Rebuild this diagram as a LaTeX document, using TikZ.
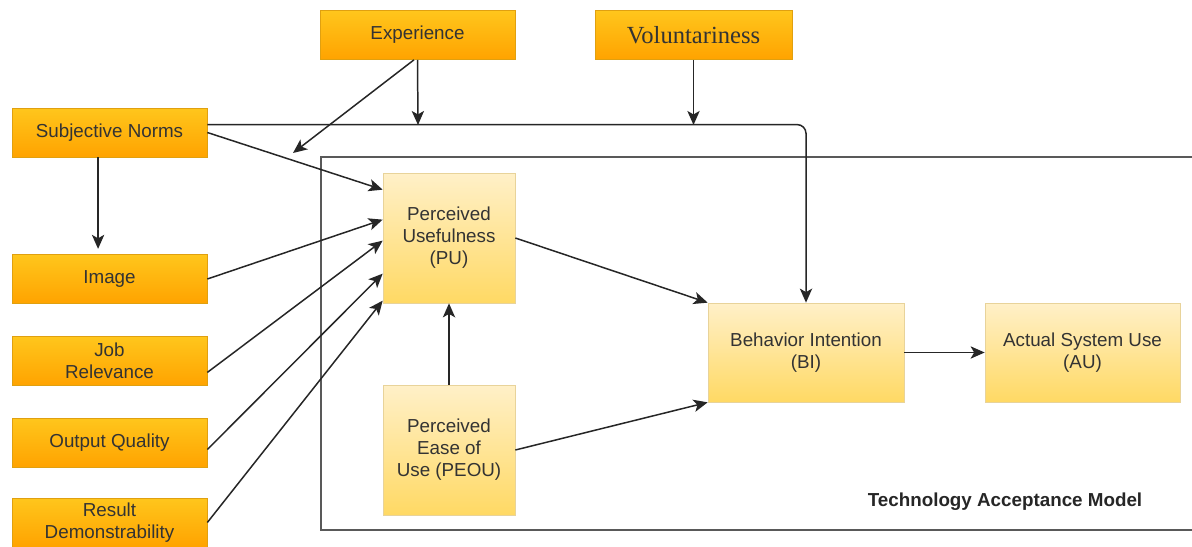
\documentclass[tikz,border=0pt]{standalone}
\usepackage{fontspec}
\setmainfont{Liberation Sans}
\newfontfamily\volfont{Liberation Serif}
\usetikzlibrary{arrows.meta, calc}
\definecolor{facttop}{HTML}{FFC61C}
\definecolor{factbot}{HTML}{FFA300}
\definecolor{factline}{HTML}{E0A010}
\definecolor{tamtop}{HTML}{FFF0C8}
\definecolor{tambot}{HTML}{FFD964}
\definecolor{tamline}{HTML}{E8D39A}
\tikzset{
  factor/.style={draw=factline, top color=facttop, bottom color=factbot, text=black!80,
    minimum width=3.9cm, minimum height=0.98cm, inner sep=1pt, align=center},
  tambox/.style={draw=tamline, top color=tamtop, bottom color=tambot, text=black!80,
    inner sep=1pt, align=center},
  link/.style={->, black!85, line width=0.85pt},
}

\begin{document}
\begin{tikzpicture}[x=0.02cm, y=-0.02cm, font=\fontsize{10.7}{12.5}\selectfont,
  >={Stealth[length=8pt,width=7pt,inset=2pt]}]
  \clip (0,0) rectangle (1192,547);
  \fill[white] (0,0) rectangle (1192,547);
  % TAM frame
  \draw[black!65, line width=1.1pt] (321,157) rectangle (1215,530);
  \node[font=\bfseries\fontsize{10.7}{12}\selectfont, black!85] (tamlbl) at (1005,502) {Technology Acceptance Model};
  % external factors
  \node[factor] (exp) at (417.5,35) {Experience};
  \node[factor, minimum width=3.94cm, font=\volfont\fontsize{14}{16}\selectfont] (vol) at (693.5,35) {Voluntariness};
  \node[factor] (sn) at (109.5,132.5) {Subjective Norms};
  \node[factor] (img) at (109.5,279) {Image};
  \node[factor] (job) at (109.5,361) {Job\\Relevance};
  \node[factor] (out) at (109.5,442.5) {Output Quality};
  \node[factor] (res) at (109.5,522.5) {Result\\Demonstrability};
  % TAM constructs
  \node[tambox, minimum width=2.64cm, minimum height=2.6cm] (pu) at (449,238) {Perceived\\Usefulness\\(PU)};
  \node[tambox, minimum width=2.64cm, minimum height=2.6cm] (peou) at (449,450) {Perceived\\Ease of\\Use (PEOU)};
  \node[tambox, minimum width=3.92cm, minimum height=1.98cm] (bi) at (806,352.5) {Behavior Intention\\(BI)};
  \node[tambox, minimum width=3.9cm, minimum height=1.98cm] (au) at (1082.5,352.5) {Actual System Use\\(AU)};
  % moderators
  \coordinate (expin) at (418,125);
  \coordinate (expsn) at (293,153);
  \draw[link] (exp.south) -- (expin);
  \draw[link] ([xshift=-2pt]exp.south) -- (expsn);
  \draw[link] (vol.south) -- (vol.south |- expin);
  \draw[link, rounded corners=5pt] ([yshift=4.5pt]sn.east) -| (bi.north);
  \draw[link] ([xshift=-6.5pt]sn.south) -- ([xshift=-6.5pt,yshift=3pt]img.north);
  % determinants of PU
  \draw[link] (sn.east) -- ($(pu.north west)+(0,17)$);
  \draw[link] (img.east) -- ($(pu.north west)+(0,47)$);
  \draw[link] ([yshift=-6.5pt]job.east) -- ($(pu.north west)+(0,68)$);
  \draw[link] ([yshift=-4pt]out.east) -- ($(pu.north west)+(0,101)$);
  \draw[link] (res.east) -- ($(pu.north west)+(0,128)$);
  % core model
  \draw[link] (peou.north) -- (pu.south);
  \draw[link] (pu.east) -- (bi.north west);
  \draw[link] (peou.east) -- (bi.south west);
  \draw[link] (bi.east) -- (au.west);
\end{tikzpicture}
\end{document}
